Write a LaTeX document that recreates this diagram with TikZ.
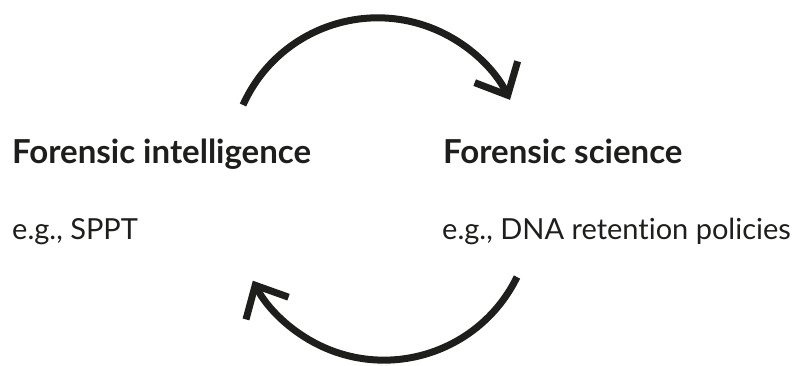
\documentclass[tikz,border=0pt]{standalone}
\usepackage{fontspec}
\setmainfont{Lato}[Ligatures={NoCommon}]
\usetikzlibrary{arrows.meta}
\definecolor{ink}{HTML}{1E1E1C}
\tikzset{
  heading/.style={anchor=base west, inner sep=0pt, font=\fontsize{33}{37}\selectfont\bfseries, text=ink},
  example/.style={anchor=base west, inner sep=0pt, font=\fontsize{29}{34}\selectfont, text=ink},
  cyclearrow/.style={draw=ink, line width=7pt, line cap=butt,
    -{Straight Barb[length=26pt, width=48pt, line cap=butt, line join=miter]}}
}
\begin{document}
\begin{tikzpicture}[x=1pt,y=1pt]
\useasboundingbox (0,0) rectangle (795,-365);
\node[heading] (intel) at (12,-163) {Forensic intelligence};
\node[heading] (sci) at (443,-163) {Forensic science};
\node[example] (sppt) at (12,-239) {e.g., SPPT};
\node[example] (dna) at (442,-239) {e.g., DNA retention policies};
\draw[cyclearrow] (243,-105) arc[start angle=155.8, end angle=26.4, radius=147.7];
\draw[cyclearrow] (517,-277) arc[start angle=-26, end angle=-152.4, radius=148];
\end{tikzpicture}
\end{document}
